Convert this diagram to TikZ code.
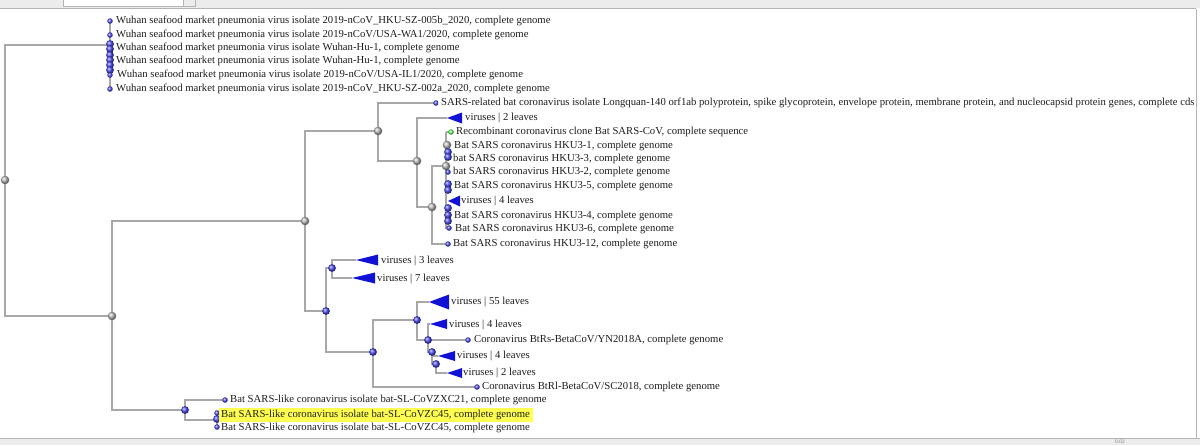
\documentclass[tikz,border=0pt]{standalone}
\usepackage{fontspec}
\setmainfont{Liberation Serif}
\definecolor{edgec}{HTML}{A8A8A8}
\definecolor{triblue}{HTML}{1212D6}
\definecolor{ballblue}{HTML}{4A4AF2}
\definecolor{txt}{HTML}{1E1E1E}
\definecolor{hl}{HTML}{FFFF50}
\definecolor{uibg}{HTML}{ECECEC}
\definecolor{uiline}{HTML}{B4B4B4}
\begin{document}
\begin{tikzpicture}[x=1pt,y=-1pt,
 edge/.style={draw=edgec,line width=1.3pt},
 gball/.style={circle,inner sep=0pt,minimum size=8.5pt,ball color=gray!55},
 bball/.style={circle,inner sep=0pt,minimum size=7.8pt,ball color=ballblue},
 ldot/.style={circle,inner sep=0pt,minimum size=5.5pt,ball color=ballblue},
 gdot/.style={circle,inner sep=0pt,minimum size=5.5pt,ball color=green!65},
 lbl/.style={anchor=west,inner sep=0pt,text=txt,font=\fontsize{10.7}{12}\selectfont},
 tri/.style={fill=triblue,draw=none}]
\useasboundingbox (0,0) rectangle (1200,445);
\fill[white] (0,0) rectangle (1200,445);
% ---------- window frame ----------
\fill[uibg] (0,0) rectangle (1200,8);
\draw[uiline,line width=0.8pt] (0,8.5) -- (1196,8.5);
\draw[uiline,fill=white,line width=0.6pt] (63,-1) rectangle (183,6);
\draw[uiline,fill=uibg,line width=0.6pt] (183,-1) rectangle (195,6);
\draw[uiline,line width=0.8pt] (1196,8.5) -- (1196,438);
\fill[uibg] (0,438) rectangle (1200,445);
\draw[uiline,line width=0.8pt] (0,438) -- (1200,438);
\node[inner sep=0pt,text=gray,font=\fontsize{5.5}{6}\selectfont] (scale) at (1120,441.5) {0.02};
% ---------- tree coordinates ----------
\coordinate (R) at (5,180);
\coordinate (W) at (110,45);
\coordinate (wt) at (110,21);
\coordinate (wb) at (110,89);
\coordinate (A) at (112,316);
\coordinate (B) at (305,221);
\coordinate (C) at (185,410);
\coordinate (D) at (378,131);
\coordinate (F) at (417,161);
\coordinate (G) at (432,207);
\coordinate (H) at (446,166);
\coordinate (I) at (447,145);
\coordinate (ht) at (446,132);
\coordinate (hb) at (446,229);
\coordinate (E) at (326,311);
\coordinate (J) at (332,268);
\coordinate (K) at (373,352);
\coordinate (L) at (417,320);
\coordinate (M) at (428,340);
\coordinate (N) at (432,352);
\coordinate (O) at (436,364);
\coordinate (cz) at (217,420);
\coordinate (czt) at (217,413);
\coordinate (czb) at (217,427);
% triangle tips
\coordinate (t2) at (447,118);
\coordinate (t4) at (448,201);
\coordinate (t3) at (356,260);
\coordinate (t7) at (352,278);
\coordinate (t55) at (429,302);
\coordinate (t4a) at (430,324);
\coordinate (t4b) at (438,356);
\coordinate (t2b) at (447,373);
% leaf dots positions
\coordinate (dsars) at (436,103);
\coordinate (drec) at (451,132);
\coordinate (d12) at (448,244);
\coordinate (dbtrs) at (468,340);
\coordinate (dbtrl) at (477,387);
\coordinate (dzxc) at (225,400);
% ---------- edges ----------
\draw[edge] (R) |- (W);
\draw[edge] (R) |- (A);
\draw[edge] (wt) -- (wb);
\draw[edge] (A) |- (B);
\draw[edge] (A) |- (C);
\draw[edge] (C) |- (dzxc);
\draw[edge] (C) |- (cz);
\draw[edge] (czt) -- (czb);
\draw[edge] (B) |- (D);
\draw[edge] (B) |- (E);
\draw[edge] (D) |- (dsars);
\draw[edge] (D) |- (F);
\draw[edge] (F) |- (t2);
\draw[edge] (F) |- (G);
\draw[edge] (G) |- (H);
\draw[edge] (G) |- (d12);
\draw[edge] (ht) -- (hb);
\draw[edge] (ht) -- (drec);
\draw[edge] (E) |- (J);
\draw[edge] (E) |- (K);
\draw[edge] (J) |- (t3);
\draw[edge] (J) |- (t7);
\draw[edge] (K) |- (L);
\draw[edge] (K) |- (dbtrl);
\draw[edge] (L) |- (t55);
\draw[edge] (L) |- (M);
\draw[edge] (M) |- (t4a);
\draw[edge] (M) -- (dbtrs);
\draw[edge] (M) |- (N);
\draw[edge] (N) |- (t4b);
\draw[edge] (N) |- (O);
\draw[edge] (O) |- (t2b);
% ---------- collapsed clades ----------
\fill[tri] (t2) -- ++(15,-5.5) -- ++(0,11) -- cycle;
\fill[tri] (t4) -- ++(12,-5.5) -- ++(0,11) -- cycle;
\fill[tri] (t3) -- ++(22,-5.5) -- ++(0,11) -- cycle;
\fill[tri] (t7) -- ++(23,-5.5) -- ++(0,11) -- cycle;
\fill[tri] (t55) -- ++(20,-7.5) -- ++(0,15) -- cycle;
\fill[tri] (t4a) -- ++(17,-5) -- ++(0,10) -- cycle;
\fill[tri] (t4b) -- ++(17,-5) -- ++(0,10) -- cycle;
\fill[tri] (t2b) -- ++(15,-5) -- ++(0,10) -- cycle;
% ---------- internal node balls ----------
\node[gball] (nR) at (R) {};
\node[gball] (nA) at (A) {};
\node[gball] (nB) at (B) {};
\node[gball] (nD) at (D) {};
\node[gball] (nF) at (F) {};
\node[gball] (nG) at (G) {};
\node[bball] (nC) at (C) {};
\node[bball] (nE) at (E) {};
\node[bball] (nJ) at (J) {};
\node[bball] (nK) at (K) {};
\node[bball] (nL) at (L) {};
\node[bball] (nM) at (M) {};
\node[bball] (nN) at (N) {};
\node[bball] (nO) at (O) {};
% Wuhan cluster
\node[ldot] (w1d) at (wt) {};
\node[ldot] (w2d) at (110,35) {};
\node[bball] (w3d) at (110,44) {};
\node[bball] (w4d) at (110,49) {};
\node[bball] (w5d) at (110,55) {};
\node[bball] (w6d) at (110,60) {};
\node[bball] (w7d) at (110,65) {};
\node[bball] (w8d) at (110,70) {};
\node[ldot] (w9d) at (110,75) {};
\node[ldot] (w10d) at (wb) {};
% HKU3 cluster
\node[gdot] (nrec) at (drec) {};
\node[gball] (nI) at (I) {};
\node[bball] (h1) at (448,152) {};
\node[bball] (h2) at (448,157) {};
\node[gball] (nH) at (H) {};
\node[ldot] (h3) at (448,172) {};
\node[bball] (h4) at (448,184) {};
\node[bball] (h5) at (448,190) {};
\node[bball] (h6) at (448,208) {};
\node[bball] (h7) at (448,215) {};
\node[bball] (h8) at (448,221) {};
\node[ldot] (h9) at (449,228) {};
\node[ldot] (n12) at (d12) {};
% other leaves
\node[ldot] (nsars) at (dsars) {};
\node[ldot] (nbtrs) at (dbtrs) {};
\node[ldot] (nbtrl) at (dbtrl) {};
\node[ldot] (nzxc) at (dzxc) {};
\node[ldot] (cz1) at (czt) {};
\node[bball] (cz2) at (217,419) {};
\node[ldot] (cz3) at (czb) {};
% ---------- labels ----------
\node[lbl] (l1) at (116,21) {Wuhan seafood market pneumonia virus isolate 2019-nCoV\_HKU-SZ-005b\_2020, complete genome};
\node[lbl] (l2) at (116,35) {Wuhan seafood market pneumonia virus isolate 2019-nCoV/USA-WA1/2020, complete genome};
\node[lbl] (l3) at (116,48) {Wuhan seafood market pneumonia virus isolate Wuhan-Hu-1, complete genome};
\node[lbl] (l4) at (116,61) {Wuhan seafood market pneumonia virus isolate Wuhan-Hu-1, complete genome};
\node[lbl] (l5) at (117,75) {Wuhan seafood market pneumonia virus isolate 2019-nCoV/USA-IL1/2020, complete genome};
\node[lbl] (l6) at (116,89) {Wuhan seafood market pneumonia virus isolate 2019-nCoV\_HKU-SZ-002a\_2020, complete genome};
\node[lbl] (l7) at (441,103) {SARS-related bat coronavirus isolate Longquan-140 orf1ab polyprotein, spike glycoprotein, envelope protein, membrane protein, and nucleocapsid protein genes, complete cds};
\node[lbl] (l8) at (465,118) {viruses | 2 leaves};
\node[lbl] (l9) at (456,132) {Recombinant coronavirus clone Bat SARS-CoV, complete sequence};
\node[lbl] (l10) at (454,146) {Bat SARS coronavirus HKU3-1, complete genome};
\node[lbl] (l11) at (453,159) {bat SARS coronavirus HKU3-3, complete genome};
\node[lbl] (l12) at (453,172) {bat SARS coronavirus HKU3-2, complete genome};
\node[lbl] (l13) at (454,186) {Bat SARS coronavirus HKU3-5, complete genome};
\node[lbl] (l14) at (461,201) {viruses | 4 leaves};
\node[lbl] (l15) at (454,216) {Bat SARS coronavirus HKU3-4, complete genome};
\node[lbl] (l16) at (455,229) {Bat SARS coronavirus HKU3-6, complete genome};
\node[lbl] (l17) at (453,244) {Bat SARS coronavirus HKU3-12, complete genome};
\node[lbl] (l18) at (381,261) {viruses | 3 leaves};
\node[lbl] (l19) at (377,279) {viruses | 7 leaves};
\node[lbl] (l20) at (451,302) {viruses | 55 leaves};
\node[lbl] (l21) at (449,325) {viruses | 4 leaves};
\node[lbl] (l22) at (474,340) {Coronavirus BtRs-BetaCoV/YN2018A, complete genome};
\node[lbl] (l23) at (457,356) {viruses | 4 leaves};
\node[lbl] (l24) at (463,373) {viruses | 2 leaves};
\node[lbl] (l25) at (482,387) {Coronavirus BtRl-BetaCoV/SC2018, complete genome};
\node[lbl] (l26) at (230,400) {Bat SARS-like coronavirus isolate bat-SL-CoVZXC21, complete genome};
\fill[hl] (219,408) rectangle (533,422);
\node[lbl] (l27) at (221,415) {Bat SARS-like coronavirus isolate bat-SL-CoVZC45, complete genome};
\node[lbl] (l28) at (221,428) {Bat SARS-like coronavirus isolate bat-SL-CoVZC45, complete genome};
\end{tikzpicture}
\end{document}
